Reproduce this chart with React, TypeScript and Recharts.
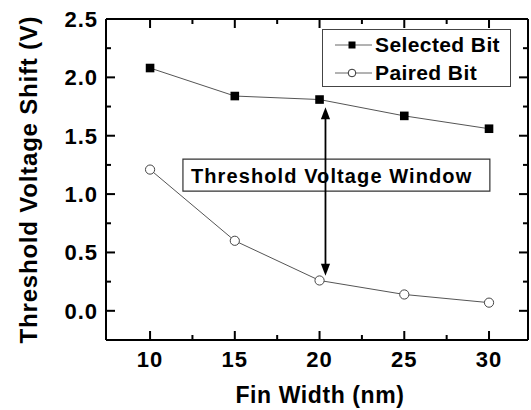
import React from 'react';
import { LineChart, Line, XAxis, YAxis, ReferenceArea, ReferenceLine, Legend } from 'recharts';

// ---------- data ----------
const finWidth = [10, 15, 20, 25, 30];
const selectedBit = [2.08, 1.84, 1.81, 1.67, 1.56];
const pairedBit = [1.21, 0.6, 0.26, 0.14, 0.07];
const seriesNames = ['Selected Bit', 'Paired Bit'];

const xMajorTicks = [10, 15, 20, 25, 30];
const xMinorTicks = [12.5, 17.5, 22.5, 27.5];
const yMajorTicks = [0, 0.5, 1.0, 1.5, 2.0, 2.5];
const yMinorTicks = [-0.25, 0.25, 0.75, 1.25, 1.75, 2.25];
const xDomain: [number, number] = [7.4, 32.3];
const yDomain: [number, number] = [-0.25, 2.5];

const xTitle = 'Fin Width (nm)';
const yTitle = 'Threshold Voltage Shift (V)';
const annotationText = 'Threshold Voltage Window';
const annotationBox = { x1: 11.94, x2: 30.05, y1: 1.026, y2: 1.3 };
const arrowSpan = { x: 20.35, yTop: 1.745, yBottom: 0.3 };

const data = finWidth.map((w, i) => ({ w, selected: selectedBit[i], paired: pairedBit[i] }));
const xTicks = [...xMajorTicks, ...xMinorTicks].sort((a, b) => a - b);
const yTicks = [...yMajorTicks, ...yMinorTicks].sort((a, b) => a - b);

// ---------- layout ----------
const CHART_W = 531;
const CHART_H = 410;
const MARGIN = { top: 18, right: 2, bottom: 0, left: 0 };
const TOP_H = 1;
const RIGHT_W = 1;
const LEFT_W = 106;
const BOTTOM_H = 70;
const PLOT_TOP = MARGIN.top + TOP_H;
const PLOT_RIGHT = CHART_W - MARGIN.right - RIGHT_W;

const FONT = '"Liberation Sans", Arial, Helvetica, sans-serif';
const isMajor = (v: number, majors: number[]) => majors.some((m) => Math.abs(m - v) < 1e-9);
const MAJOR = 9;
const MINOR = 5;
const TW = 2;

// bottom axis tick: inward tick at bottom and mirrored one at top frame edge
const BottomTick = (props: any) => {
  const x = Number(props.x);
  const y = Number(props.y);
  const { payload } = props;
  const major = isMajor(payload.value, xMajorTicks);
  const len = major ? MAJOR : MINOR;
  return (
    <g>
      <rect x={x - TW / 2} y={y - len} width={TW} height={len} fill="#000" />
      <rect x={x - TW / 2} y={PLOT_TOP} width={TW} height={len} fill="#000" />
      {major && (
        <text x={x} y={y + 27} textAnchor="middle" fontFamily={FONT} fontWeight="bold" fontSize={22} letterSpacing={1} fill="#000">
          {payload.value}
        </text>
      )}
    </g>
  );
};

// left axis tick: inward tick at left and mirrored one at right frame edge
const LeftTick = (props: any) => {
  const x = Number(props.x);
  const y = Number(props.y);
  const { payload } = props;
  const major = isMajor(payload.value, yMajorTicks);
  const len = major ? MAJOR : MINOR;
  return (
    <g>
      <rect x={x} y={y - TW / 2} width={len} height={TW} fill="#000" />
      <rect x={PLOT_RIGHT - len} y={y - TW / 2} width={len} height={TW} fill="#000" />
      {major && (
        <text x={x - 8} y={y + 8} textAnchor="end" fontFamily={FONT} fontWeight="bold" fontSize={22} letterSpacing={1} fill="#000">
          {Number(payload.value).toFixed(1)}
        </text>
      )}
    </g>
  );
};

const SquareDot = (props: any) => {
  const { cx, cy, index } = props;
  if (cx == null || cy == null) return <g key={index} />;
  return <rect key={index} x={cx - 4.3} y={cy - 4.3} width={8.6} height={8.6} fill="#000" />;
};

const CircleDot = (props: any) => {
  const { cx, cy, index } = props;
  if (cx == null || cy == null) return <g key={index} />;
  return <circle key={index} cx={cx} cy={cy} r={4.6} fill="#fff" stroke="#444" strokeWidth={1} />;
};

const ArrowShape = (p: any) => {
  const { x1, y1, y2 } = p;
  const top = Math.min(y1, y2);
  const bot = Math.max(y1, y2);
  const x = x1;
  const hl = 12;
  const hw = 4.6;
  return (
    <g>
      <path d={`M${x},${top + hl - 1}V${bot - hl + 1}`} stroke="#000" strokeWidth={1.8} fill="none" />
      <polygon points={`${x},${top} ${x - hw},${top + hl} ${x + hw},${top + hl}`} fill="#000" />
      <polygon points={`${x},${bot} ${x - hw},${bot - hl} ${x + hw},${bot - hl}`} fill="#000" />
    </g>
  );
};

const AnnotationLabel = (props: any) => {
  const vb = props.viewBox || {};
  return (
    <text
      x={vb.x + 8}
      y={vb.y + vb.height / 2 + 7.5}
      textAnchor="start"
      fontFamily={FONT}
      fontWeight="bold"
      fontSize={20}
      letterSpacing={1.1}
      fill="#000"
    >
      {annotationText}
    </text>
  );
};

const XTitle = (props: any) => {
  const vb = props.viewBox || {};
  return (
    <text x={vb.x + vb.width / 2 + 3} y={vb.y + 63} textAnchor="middle" fontFamily={FONT} fontWeight="bold" fontSize={23} letterSpacing={0.6} fill="#000">
      {xTitle}
    </text>
  );
};

const YTitle = (props: any) => {
  const vb = props.viewBox || {};
  const cy = vb.y + vb.height / 2;
  const cx = 37;
  return (
    <text x={cx} y={cy} transform={`rotate(-90, ${cx}, ${cy})`} textAnchor="middle" fontFamily={FONT} fontWeight="bold" fontSize={24} letterSpacing={0.8} fill="#000">
      {yTitle}
    </text>
  );
};

const LegendIcon = ({ kind }: { kind: number }) => (
  <svg width={37} height={20} style={{ display: 'block', flex: 'none' }}>
    <line x1={0} x2={37} y1={10} y2={10} stroke="#666" strokeWidth={1} />
    {kind === 0 ? (
      <rect x={13.5} y={6.5} width={7} height={7} fill="#000" />
    ) : (
      <circle cx={17} cy={10} r={3.8} fill="#fff" stroke="#333" strokeWidth={1} />
    )}
  </svg>
);

const LegendBox = () => (
  <div
    style={{
      boxSizing: 'border-box',
      width: 189,
      height: 58,
      border: '1px solid #444',
      background: '#fff',
      position: 'relative',
      fontFamily: FONT,
      fontWeight: 'bold',
      fontSize: 21,
      letterSpacing: 0.4,
      color: '#000',
    }}
  >
    {seriesNames.map((name, i) => (
      <div
        key={name}
        style={{ position: 'absolute', left: 12, top: 1 + i * 28, height: 28, display: 'flex', alignItems: 'center', whiteSpace: 'nowrap', lineHeight: '28px' }}
      >
        <LegendIcon kind={i} />
        <span style={{ marginLeft: 3 }}>{name}</span>
      </div>
    ))}
  </div>
);

export default function App() {
  return (
    <div style={{ position: 'absolute', left: 0, top: 0, width: CHART_W, height: CHART_H, background: '#fff' }}>
      <LineChart width={CHART_W} height={CHART_H} data={data} margin={MARGIN}>
        <XAxis
          dataKey="w"
          type="number"
          domain={xDomain}
          ticks={xTicks}
          interval={0}
          height={BOTTOM_H}
          tickSize={0}
          tickMargin={0}
          tick={<BottomTick />}
          axisLine={{ stroke: '#000', strokeWidth: 2 }}
          tickLine={false}
          allowDataOverflow
          label={<XTitle />}
        />
        <XAxis
          xAxisId="top"
          orientation="top"
          dataKey="w"
          type="number"
          domain={xDomain}
          ticks={xTicks}
          interval={0}
          height={TOP_H}
          tick={false}
          tickLine={false}
          axisLine={{ stroke: '#000', strokeWidth: 2 }}
          allowDataOverflow
        />
        <YAxis
          type="number"
          domain={yDomain}
          ticks={yTicks}
          interval={0}
          width={LEFT_W}
          tickSize={0}
          tickMargin={0}
          tick={<LeftTick />}
          axisLine={{ stroke: '#000', strokeWidth: 2 }}
          tickLine={false}
          allowDataOverflow
          label={<YTitle />}
        />
        <YAxis
          yAxisId="right"
          orientation="right"
          type="number"
          domain={yDomain}
          ticks={yTicks}
          interval={0}
          width={RIGHT_W}
          tick={false}
          tickLine={false}
          axisLine={{ stroke: '#000', strokeWidth: 2 }}
          allowDataOverflow
        />
        <Line dataKey="selected" name={seriesNames[0]} stroke="#555" strokeWidth={1} dot={SquareDot} activeDot={false} isAnimationActive={false} />
        <Line dataKey="paired" name={seriesNames[1]} stroke="#555" strokeWidth={1} dot={CircleDot} activeDot={false} isAnimationActive={false} />
        <ReferenceLine
          segment={[
            { x: arrowSpan.x, y: arrowSpan.yTop },
            { x: arrowSpan.x, y: arrowSpan.yBottom },
          ]}
          shape={ArrowShape}
          stroke="#000"
        />
        <ReferenceArea
          x1={annotationBox.x1}
          x2={annotationBox.x2}
          y1={annotationBox.y1}
          y2={annotationBox.y2}
          fill="#fff"
          fillOpacity={1}
          stroke="#333"
          strokeWidth={1.2}
          label={AnnotationLabel}
        />
        <Legend
          layout="vertical"
          verticalAlign="middle"
          align="center"
          wrapperStyle={{ left: 322, top: 29, width: 189, height: 58 }}
          content={() => <LegendBox />}
        />
      </LineChart>
    </div>
  );
}
